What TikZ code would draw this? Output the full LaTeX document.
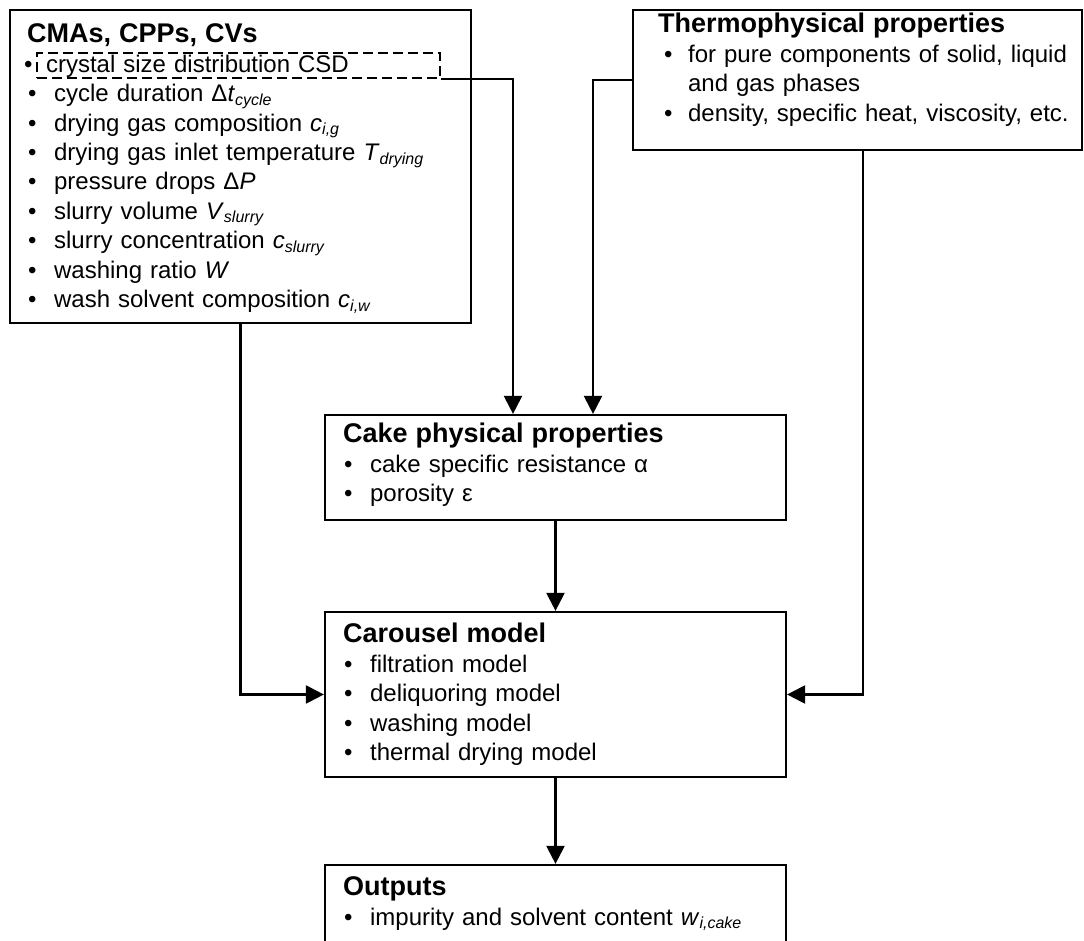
\documentclass[tikz,border=0pt]{standalone}
\usepackage{fontspec}
\setmainfont{Liberation Sans}
\usepackage{tikz}
\usetikzlibrary{arrows.meta, fit, positioning}

% bullet line: optional shift of the bullet, text starts at \bulletw
\newlength{\bulletw}
\setlength{\bulletw}{13.5pt}
\newcommand{\bitem}[2][0.5pt]{\makebox[\bulletw][l]{\hspace*{#1}\textbullet}#2\par}
\newcommand{\isub}[1]{\textsubscript{\textit{#1}}}
\newcommand{\heading}[1]{{\fontsize{13.5}{16}\selectfont\bfseries #1\par}}

\tikzset{
  box/.style={draw, line width=1.1pt, inner sep=0pt},
  csdbox/.style={draw, dashed, dash pattern=on 5pt off 2.5pt, line width=0.8pt, inner sep=0pt},
  body/.style={anchor=base west, inner sep=0pt, text width=#1, align=left,
    font=\fontsize{12}{14.7}\selectfont},
}

\begin{document}
\begin{tikzpicture}[x=0.5pt, y=-0.5pt, line width=1.1pt, >={Triangle[width=9pt, length=9pt]}]
        \clip (0,0) rectangle (1084,941);

        % Boxes
        \node[box, fit={(10,10) (471,323)}] (cma) {};
        \node[box, fit={(633,10) (1082,150)}] (thermo) {};
        \node[box, fit={(325,415) (786,520)}] (cake) {};
        \node[box, fit={(325,612) (786,777)}] (carousel) {};
        \node[box, fit={(325,865) (786,960)}] (out) {};
        \node[csdbox, fit={(37,53) (440,78)}] (csd) {};

        % Box contents
        \node[body=225pt] (cmaT) at (26,43) {%
          \heading{CMAs, CPPs, CVs}
          \bitem[-1.5pt]{\hspace{-4pt}crystal size distribution CSD}
          \bitem{cycle duration Δ\textit{t}\isub{cycle}}
          \bitem{drying gas composition \textit{c}\isub{i,g}}
          \bitem{drying gas inlet temperature \textit{T}\isub{drying}}
          \bitem{pressure drops Δ\textit{P}}
          \bitem{slurry volume \textit{V}\isub{slurry}}
          \bitem{slurry concentration \textit{c}\isub{slurry}}
          \bitem{washing ratio \textit{W}}
          \bitem{wash solvent composition \textit{c}\isub{i,w}}};
        \node[body=212pt] (thermoT) at (657,33) {%
          \setlength{\bulletw}{15pt}%
          \heading{Thermophysical properties}
          \bitem[3pt]{for pure components of solid, liquid}
          \hspace*{15pt}and gas phases\par
          \bitem[3pt]{density, specific heat, viscosity, etc.}};
        \node[body=225pt] (cakeT) at (342,443) {%
          \heading{Cake physical properties}
          \bitem{cake specific resistance α}
          \bitem{porosity ε}};
        \node[body=225pt] (carouselT) at (342,643) {%
          \heading{Carousel model}
          \bitem{filtration model}
          \bitem{deliquoring model}
          \bitem{washing model}
          \bitem{thermal drying model}};
        \node[body=225pt] (outT) at (342,896) {%
          \heading{Outputs}
          \bitem{impurity and solvent content \textit{w}\isub{i,cake}}};

        % Directed edges
        \draw[->] (csd.south east) -| ([xshift=-21.25pt]cake.north);
        \draw[->] (thermo.west) -| ([xshift=18.75pt]cake.north);
        \draw[->] (cma.south) |- (carousel.west);
        \draw[->] ([xshift=2.75pt]thermo.south) |- (carousel.east);
        \draw[->] (cake.south) -- (carousel.north);
        \draw[->] (carousel.south) -- (out.north);
    \end{tikzpicture}
\end{document}
